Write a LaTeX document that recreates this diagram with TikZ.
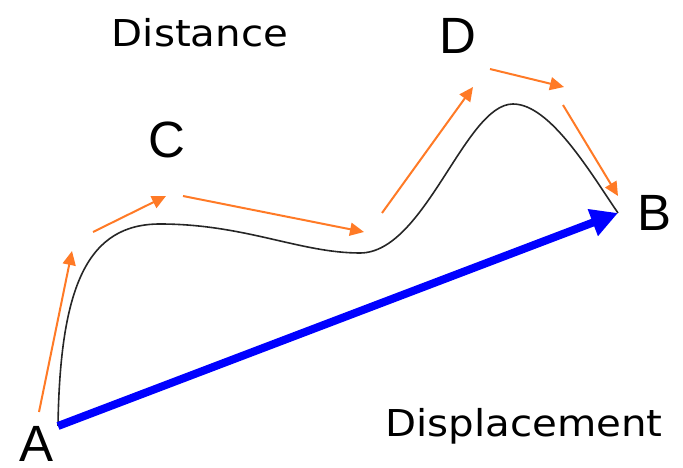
\documentclass[tikz,border=0pt]{standalone}
\usepackage{fontspec}
\setmainfont{Liberation Sans}
\newfontfamily\labfont{DejaVu Sans}
\usetikzlibrary{arrows.meta}
\definecolor{orangearr}{RGB}{255,122,38}
\definecolor{bluearr}{RGB}{0,0,255}
\tikzset{
  pointlbl/.style={font=\fontsize{51}{51}\selectfont, inner sep=0pt},
  wordlbl/.style={font=\labfont\fontsize{37}{37}\selectfont, inner sep=0pt, anchor=base, xscale=1.09},
  orangearrow/.style={draw=orangearr, line width=2pt, -{Triangle[length=14pt,width=13pt]}},
  bluearrow/.style={draw=bluearr, line width=8pt, -{Triangle[length=27pt,width=27pt]}},
  pathline/.style={draw=black!85, line width=1.6pt}
}
\begin{document}
\begin{tikzpicture}[x=1pt,y=-1pt]
\useasboundingbox (0,0) rectangle (683,468);
% point labels
\node[pointlbl] (A) at (37,444) {A};
\node[pointlbl] (B) at (655,213) {B};
\node[pointlbl] (C) at (167,140) {C};
\node[pointlbl] (D) at (458,36) {D};
% word labels
\node[wordlbl] (dist) at (200,47) {Distance};
\node[wordlbl] (disp) at (524,436) {Displacement};
% curve coordinates
\coordinate (pA) at (58,426);
\coordinate (m1) at (160,224);
\coordinate (m2) at (360,253);
\coordinate (m3) at (513,104);
\coordinate (pB) at (618,213);
\draw[pathline] (pA) .. controls (60,285) and (88,224) .. (m1)
  .. controls (245,224) and (300,253) .. (m2)
  .. controls (425,253) and (465,104) .. (m3)
  .. controls (550,104) and (590,172) .. (pB);
% displacement arrow
\draw[bluearrow] (pA) -- (pB);
% orange arrows
\coordinate (o1s) at (39,412); \coordinate (o1e) at (72,251);
\coordinate (o2s) at (93,232); \coordinate (o2e) at (166,196);
\coordinate (o3s) at (183,196); \coordinate (o3e) at (364,232);
\coordinate (o4s) at (382,213); \coordinate (o4e) at (473,87);
\coordinate (o5s) at (490,69); \coordinate (o5e) at (564,87);
\coordinate (o6s) at (563,105); \coordinate (o6e) at (618,196);
\draw[orangearrow] (o1s) -- (o1e);
\draw[orangearrow] (o2s) -- (o2e);
\draw[orangearrow] (o3s) -- (o3e);
\draw[orangearrow] (o4s) -- (o4e);
\draw[orangearrow] (o5s) -- (o5e);
\draw[orangearrow] (o6s) -- (o6e);
\end{tikzpicture}
\end{document}
